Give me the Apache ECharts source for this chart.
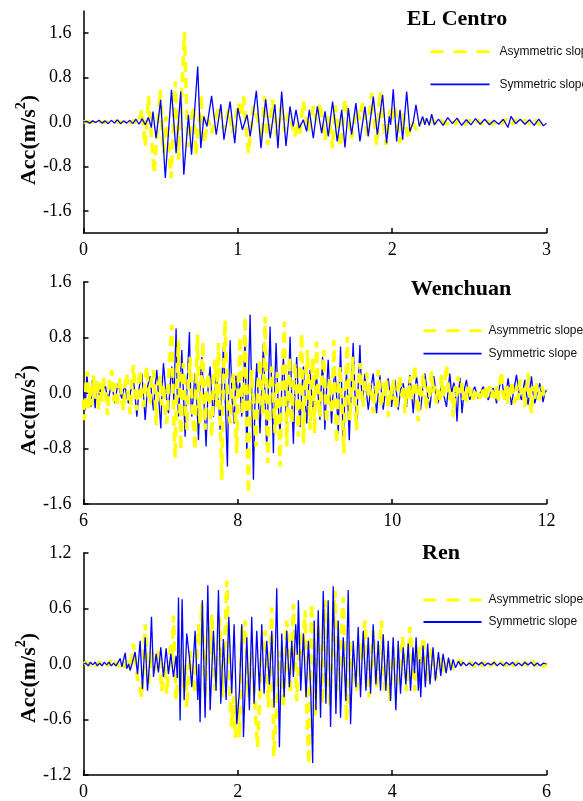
<!DOCTYPE html>
<html>
<head>
<meta charset="utf-8">
<style>
html,body{margin:0;padding:0;background:#fff;}
#c{width:583px;height:801px;}
</style>
<script src="https://cdn.jsdelivr.net/npm/echarts@6/dist/echarts.min.js"></script>
</head>
<body>
<div id="c"></div>
<script>
// ---------- DATA ([time s, acceleration m/s^2]) ----------
const seriesNames = ['Asymmetric slope', 'Symmetric slope'];
const panelTitles = ['EL Centro', 'Wenchuan', 'Ren'];

const elCentroYTicks = [-1.6, -0.8, 0, 0.8, 1.6];

const elCentroAsym = [[0,0],[0.03,0.01],[0.06,-0.01],[0.09,0.02],[0.12,-0.01],[0.15,0.01],[0.18,-0.02],[0.21,0.01],[0.24,-0.01],[0.27,0.02],[0.30,-0.02],[0.33,0.03],[0.355,-0.04],[0.378,0.22],[0.40,-0.44],[0.421,0.46],[0.458,-0.92],[0.497,0.58],[0.518,-0.56],[0.534,0.10],[0.568,-1.01],[0.594,0.73],[0.616,-0.68],[0.654,1.62],[0.676,-0.45],[0.713,0.28],[0.728,-0.60],[0.762,0.49],[0.78,-0.38],[0.81,0.04],[0.832,-0.20],[0.875,0.28],[0.907,-0.14],[0.94,0.22],[0.965,-0.20],[1.004,0.34],[1.02,0.10],[1.037,0.46],[1.069,-0.56],[1.10,0.28],[1.13,0.04],[1.156,-0.30],[1.173,0.46],[1.194,-0.41],[1.225,0.40],[1.253,-0.26],[1.285,0.34],[1.30,-0.17],[1.33,0.16],[1.37,-0.26],[1.39,0.0],[1.40,-0.26],[1.424,0.37],[1.457,-0.17],[1.489,0.28],[1.51,0.0],[1.532,0.34],[1.565,-0.32],[1.59,0.10],[1.614,-0.47],[1.63,0.30],[1.666,-0.44],[1.694,0.40],[1.737,-0.29],[1.77,0.22],[1.79,0.05],[1.808,0.34],[1.839,-0.26],[1.867,0.52],[1.90,-0.41],[1.921,0.55],[1.96,-0.41],[1.986,0.22],[2.0,0.05],[2.018,0.28],[2.05,-0.38],[2.07,0.16],[2.105,-0.29],[2.126,0.04],[2.158,-0.14],[2.20,0.05],[2.23,-0.05],[2.26,0.04],[2.29,-0.05],[2.32,0.03],[2.35,-0.04],[2.38,0.05],[2.41,-0.03],[2.44,0.04],[2.47,-0.05],[2.50,0.03],[2.53,-0.04],[2.56,0.03],[2.59,-0.06],[2.62,0.02],[2.65,-0.04],[2.68,0.03],[2.71,-0.03],[2.74,0.05],[2.77,-0.05],[2.80,0.04],[2.83,-0.04],[2.86,0.03],[2.89,-0.03],[2.92,0.05],[2.95,-0.04],[2.98,0.02],[3.0,0.0]];

const elCentroSym = [[0,0],[0.02,0.01],[0.04,-0.02],[0.06,0.02],[0.08,-0.01],[0.10,0.03],[0.12,-0.02],[0.14,0.02],[0.16,-0.03],[0.18,0.03],[0.20,-0.02],[0.22,0.04],[0.24,-0.03],[0.26,0.02],[0.28,-0.02],[0.30,0.03],[0.32,-0.03],[0.34,0.05],[0.36,-0.04],[0.38,0.06],[0.40,-0.05],[0.42,0.08],[0.44,-0.10],[0.45,0.19],[0.47,-0.29],[0.50,0.40],[0.53,-1.01],[0.57,0.58],[0.60,-0.56],[0.63,0.55],[0.65,-0.95],[0.68,0.13],[0.70,-0.59],[0.74,1.0],[0.76,-0.47],[0.78,0.10],[0.80,-0.08],[0.83,0.47],[0.86,-0.23],[0.89,0.32],[0.91,-0.32],[0.95,0.37],[0.98,-0.38],[1.00,0.25],[1.03,-0.14],[1.06,0.13],[1.08,-0.26],[1.12,0.56],[1.15,-0.47],[1.18,0.41],[1.21,-0.29],[1.24,0.32],[1.26,-0.47],[1.284,0.55],[1.312,-0.43],[1.338,0.28],[1.359,-0.08],[1.377,0.22],[1.398,-0.11],[1.424,0.04],[1.446,-0.17],[1.463,0.22],[1.489,-0.29],[1.515,0.28],[1.543,-0.20],[1.565,0.19],[1.586,-0.26],[1.614,0.37],[1.644,-0.35],[1.673,0.22],[1.694,-0.46],[1.716,0.25],[1.737,-0.23],[1.765,0.34],[1.791,-0.35],[1.824,0.28],[1.845,-0.26],[1.878,0.46],[1.904,-0.23],[1.938,0.49],[1.964,-0.38],[1.981,0.10],[1.99,-0.05],[2.007,0.59],[2.029,-0.35],[2.051,0.22],[2.068,-0.32],[2.094,0.55],[2.115,-0.17],[2.137,0.0],[2.154,0.31],[2.176,-0.08],[2.197,0.10],[2.212,-0.05],[2.223,0.07],[2.24,-0.06],[2.256,0.14],[2.273,-0.05],[2.30,0.05],[2.33,-0.06],[2.36,0.08],[2.39,-0.03],[2.42,0.07],[2.45,-0.06],[2.48,0.04],[2.51,-0.05],[2.54,0.06],[2.57,-0.04],[2.60,0.05],[2.63,-0.05],[2.66,0.03],[2.69,-0.04],[2.72,0.05],[2.75,-0.10],[2.77,0.10],[2.80,-0.03],[2.83,0.05],[2.86,-0.04],[2.89,0.04],[2.92,-0.06],[2.95,0.05],[2.98,-0.07],[3.0,-0.02]];

const wenchuanYTicks = [-1.6, -0.8, 0, 0.8, 1.6];

const wenchuanAsym = [[6.000,-0.10],[6.013,-0.39],[6.032,0.12],[6.052,0.31],[6.070,-0.22],[6.088,0.10],[6.108,-0.18],[6.130,0.25],[6.152,-0.08],[6.173,0.20],[6.195,-0.25],[6.216,0.15],[6.238,-0.12],[6.259,0.22],[6.284,0.02],[6.311,-0.32],[6.338,0.18],[6.367,0.33],[6.390,-0.12],[6.410,0.14],[6.432,-0.20],[6.455,0.06],[6.475,0.21],[6.497,-0.12],[6.518,-0.25],[6.540,0.12],[6.561,0.28],[6.583,-0.08],[6.604,-0.30],[6.626,0.18],[6.648,0.40],[6.670,-0.05],[6.691,-0.25],[6.712,0.15],[6.734,0.33],[6.755,-0.12],[6.777,-0.20],[6.800,0.22],[6.820,0.38],[6.842,-0.06],[6.864,-0.15],[6.885,0.24],[6.907,0.33],[6.925,0.00],[6.941,-0.46],[6.966,0.10],[6.993,0.24],[7.015,-0.18],[7.040,0.12],[7.060,-0.30],[7.079,-0.44],[7.110,0.35],[7.144,0.98],[7.165,-0.20],[7.187,-0.94],[7.210,0.20],[7.231,0.76],[7.246,-0.10],[7.261,-0.82],[7.280,0.10],[7.295,0.43],[7.318,-0.10],[7.339,-0.53],[7.360,0.20],[7.382,0.52],[7.415,-0.30],[7.446,-0.82],[7.460,0.20],[7.477,0.84],[7.495,-0.10],[7.511,-0.44],[7.530,0.30],[7.546,0.74],[7.560,-0.10],[7.576,-0.53],[7.598,0.10],[7.619,0.28],[7.640,-0.20],[7.662,-0.63],[7.685,0.20],[7.706,0.48],[7.730,-0.20],[7.749,0.72],[7.770,-0.30],[7.792,-1.25],[7.815,0.30],[7.835,1.05],[7.868,-0.10],[7.900,-0.44],[7.922,0.10],[7.943,0.28],[7.965,-0.30],[7.986,-0.87],[8.008,0.20],[8.029,0.81],[8.046,0.10],[8.064,-0.30],[8.080,0.30],[8.094,1.10],[8.115,-0.30],[8.137,-1.45],[8.158,0.10],[8.180,0.33],[8.208,-0.20],[8.237,-0.77],[8.262,0.10],[8.288,0.48],[8.305,0.00],[8.323,-0.30],[8.340,0.40],[8.353,1.10],[8.370,-0.20],[8.388,-1.01],[8.414,0.10],[8.440,0.38],[8.462,-0.10],[8.483,-0.58],[8.500,0.00],[8.513,0.30],[8.530,-0.30],[8.547,-1.06],[8.575,0.20],[8.604,1.03],[8.620,0.00],[8.634,-0.77],[8.652,0.10],[8.668,0.52],[8.684,-0.10],[8.699,-0.44],[8.720,0.10],[8.742,0.43],[8.763,-0.10],[8.785,-0.63],[8.806,0.30],[8.828,0.86],[8.840,0.10],[8.850,-0.73],[8.876,0.10],[8.902,0.62],[8.920,0.00],[8.936,-0.53],[8.953,0.10],[8.970,0.50],[8.983,0.00],[8.995,-0.58],[9.008,0.10],[9.020,0.74],[9.042,0.00],[9.064,-0.34],[9.090,0.20],[9.115,0.62],[9.132,0.00],[9.150,-0.44],[9.172,0.00],[9.193,0.20],[9.208,-0.10],[9.220,-0.30],[9.232,0.20],[9.245,0.76],[9.262,-0.10],[9.280,-0.73],[9.302,0.00],[9.323,0.38],[9.350,-0.20],[9.375,-0.87],[9.396,0.10],[9.418,0.81],[9.435,0.00],[9.452,-0.39],[9.470,0.10],[9.487,0.52],[9.512,-0.10],[9.539,-0.53],[9.560,0.10],[9.582,0.43],[9.604,0.00],[9.625,-0.20],[9.648,0.15],[9.670,0.30],[9.690,-0.05],[9.711,0.14],[9.733,0.02],[9.754,-0.29],[9.786,0.10],[9.805,-0.05],[9.819,0.33],[9.840,0.00],[9.862,-0.20],[9.884,0.15],[9.905,-0.04],[9.927,0.18],[9.949,-0.34],[9.970,0.05],[9.990,-0.10],[10.013,0.20],[10.035,-0.10],[10.057,-0.24],[10.078,0.10],[10.100,0.24],[10.122,-0.05],[10.143,0.10],[10.165,-0.29],[10.187,0.05],[10.208,-0.10],[10.230,0.24],[10.245,-0.05],[10.260,-0.10],[10.277,0.15],[10.294,0.40],[10.315,-0.05],[10.337,-0.41],[10.360,0.10],[10.380,-0.05],[10.402,0.28],[10.424,0.00],[10.445,-0.24],[10.467,0.10],[10.488,-0.05],[10.510,0.31],[10.532,0.00],[10.553,0.10],[10.575,-0.15],[10.597,0.05],[10.618,-0.10],[10.640,0.26],[10.655,-0.05],[10.670,0.00],[10.687,0.20],[10.704,0.40],[10.725,0.10],[10.747,-0.10],[10.770,0.05],[10.791,-0.34],[10.820,0.10],[10.837,-0.05],[10.855,0.24],[10.877,0.00],[10.898,0.15],[10.920,-0.10],[10.942,0.05],[10.963,-0.12],[10.985,0.09],[11.007,-0.05],[11.028,0.06],[11.050,-0.10],[11.072,0.05],[11.093,-0.06],[11.115,0.04],[11.137,-0.08],[11.158,0.06],[11.180,-0.05],[11.202,0.07],[11.223,-0.09],[11.245,0.05],[11.266,0.09],[11.288,-0.06],[11.310,0.05],[11.330,-0.08],[11.352,0.10],[11.374,-0.12],[11.395,0.15],[11.417,0.31],[11.438,0.00],[11.460,-0.10],[11.482,0.10],[11.503,-0.15],[11.525,0.04],[11.547,0.15],[11.568,-0.05],[11.590,-0.15],[11.612,0.10],[11.633,-0.10],[11.654,0.19],[11.676,0.00],[11.698,0.10],[11.719,-0.20],[11.740,0.05],[11.762,0.28],[11.783,-0.05],[11.805,-0.29],[11.826,0.10],[11.848,-0.08],[11.870,0.14],[11.891,-0.05],[11.913,-0.10],[11.935,0.10],[11.956,0.04],[11.978,-0.08],[12.000,-0.05]];

const wenchuanSym = [[6.000,0.05],[6.022,-0.25],[6.043,0.28],[6.068,-0.05],[6.095,-0.20],[6.108,0.05],[6.121,0.24],[6.136,0.00],[6.151,-0.22],[6.172,0.10],[6.185,0.12],[6.205,-0.03],[6.222,0.08],[6.237,-0.10],[6.259,0.05],[6.281,0.12],[6.302,-0.02],[6.324,-0.10],[6.345,0.05],[6.367,0.14],[6.389,-0.02],[6.410,-0.15],[6.432,0.05],[6.453,0.14],[6.475,0.00],[6.497,-0.08],[6.518,0.04],[6.540,0.09],[6.561,-0.05],[6.583,-0.15],[6.615,0.05],[6.648,0.18],[6.670,-0.05],[6.691,-0.34],[6.724,0.10],[6.756,0.28],[6.778,-0.05],[6.799,-0.39],[6.832,0.10],[6.864,0.24],[6.885,-0.05],[6.907,-0.25],[6.928,0.10],[6.950,0.33],[6.976,-0.10],[7.002,-0.51],[7.020,0.10],[7.036,0.43],[7.068,0.00],[7.101,-0.29],[7.122,0.10],[7.144,0.38],[7.170,-0.10],[7.200,0.93],[7.215,0.00],[7.231,-0.34],[7.252,0.10],[7.274,0.62],[7.295,0.00],[7.317,-0.63],[7.345,0.20],[7.373,0.88],[7.388,0.00],[7.403,-0.34],[7.425,0.00],[7.446,0.28],[7.468,-0.10],[7.490,-0.68],[7.512,0.10],[7.533,0.52],[7.560,-0.10],[7.589,-0.77],[7.615,0.10],[7.641,0.38],[7.662,-0.05],[7.684,-0.34],[7.705,0.05],[7.727,0.28],[7.750,-0.10],[7.770,-0.53],[7.792,0.10],[7.813,0.67],[7.840,-0.20],[7.865,-1.06],[7.882,0.10],[7.900,0.76],[7.926,-0.10],[7.952,-0.44],[7.975,0.25],[8.000,-0.05],[8.025,0.15],[8.051,-0.34],[8.072,0.10],[8.094,0.76],[8.116,-0.92],[8.138,0.20],[8.159,1.13],[8.180,0.00],[8.202,-1.25],[8.224,0.00],[8.245,0.43],[8.266,-0.10],[8.288,-0.58],[8.310,0.10],[8.332,0.72],[8.354,-0.10],[8.375,-0.82],[8.396,0.10],[8.418,0.96],[8.440,0.00],[8.461,-0.87],[8.478,0.10],[8.496,0.72],[8.520,-0.10],[8.547,-0.63],[8.570,0.10],[8.591,0.52],[8.612,-0.05],[8.634,-0.44],[8.656,0.10],[8.677,0.81],[8.698,-0.05],[8.720,-0.73],[8.742,0.10],[8.763,0.52],[8.785,-0.10],[8.807,-0.49],[8.828,0.05],[8.850,0.38],[8.872,-0.05],[8.893,-0.44],[8.915,0.05],[8.936,0.33],[8.958,-0.05],[8.979,-0.25],[9.000,0.05],[9.020,0.24],[9.042,-0.05],[9.064,-0.39],[9.081,0.10],[9.098,0.52],[9.113,0.00],[9.128,-0.53],[9.150,0.05],[9.171,0.48],[9.193,-0.05],[9.215,-0.44],[9.236,0.05],[9.258,0.38],[9.280,-0.05],[9.301,-0.58],[9.316,0.10],[9.331,0.67],[9.348,0.00],[9.366,-0.73],[9.388,0.00],[9.409,0.28],[9.426,-0.10],[9.444,-0.68],[9.470,0.10],[9.495,0.72],[9.517,0.00],[9.539,-0.44],[9.560,0.10],[9.582,0.69],[9.600,0.10],[9.616,-0.15],[9.631,0.05],[9.646,0.28],[9.668,0.00],[9.690,-0.24],[9.722,0.05],[9.754,0.28],[9.776,0.00],[9.798,-0.29],[9.820,0.00],[9.841,0.26],[9.862,0.00],[9.884,-0.24],[9.916,0.05],[9.949,0.21],[9.970,0.00],[9.992,-0.20],[10.013,0.00],[10.035,0.19],[10.056,0.00],[10.078,-0.24],[10.110,0.05],[10.143,0.14],[10.165,-0.02],[10.186,-0.20],[10.208,0.05],[10.230,0.26],[10.252,0.00],[10.273,-0.29],[10.295,0.05],[10.316,0.24],[10.342,0.00],[10.368,-0.24],[10.396,0.05],[10.424,0.28],[10.456,0.00],[10.488,-0.22],[10.514,0.05],[10.540,0.24],[10.568,0.00],[10.596,-0.15],[10.618,0.00],[10.640,0.11],[10.672,-0.05],[10.704,-0.20],[10.726,0.05],[10.747,0.28],[10.770,0.00],[10.800,0.15],[10.820,0.00],[10.840,-0.41],[10.860,0.00],[10.880,0.22],[10.890,0.00],[10.905,-0.29],[10.935,0.05],[10.963,0.19],[10.985,0.00],[11.006,-0.10],[11.038,0.02],[11.071,0.09],[11.093,0.00],[11.115,-0.08],[11.148,0.02],[11.180,0.09],[11.212,0.00],[11.244,-0.10],[11.276,0.00],[11.309,0.07],[11.330,0.00],[11.352,-0.15],[11.384,0.05],[11.417,0.24],[11.438,0.05],[11.460,-0.10],[11.482,0.05],[11.503,0.21],[11.525,0.00],[11.546,-0.17],[11.578,0.05],[11.611,0.26],[11.644,0.00],[11.676,-0.10],[11.698,0.05],[11.719,0.19],[11.740,0.00],[11.762,-0.17],[11.783,0.05],[11.805,0.24],[11.826,0.00],[11.848,-0.15],[11.880,0.00],[11.913,0.14],[11.935,0.00],[11.956,-0.13],[11.978,0.00],[12.000,0.04]];

const renYTicks = [-1.2, -0.6, 0, 0.6, 1.2];

const renAsym = [[0,0],[0.04,0.02],[0.08,-0.02],[0.12,0.01],[0.16,-0.02],[0.20,0.02],[0.24,-0.01],[0.28,0.02],[0.32,-0.02],[0.35,0.04],[0.38,-0.02],[0.42,0.02],[0.46,-0.03],[0.50,0.03],[0.54,-0.04],[0.58,0.05],[0.61,-0.06],[0.648,0.22],[0.691,-0.11],[0.756,-0.36],[0.799,0.43],[0.842,-0.22],[0.885,0.14],[0.928,-0.07],[0.971,0.14],[1.015,-0.29],[1.05,0.0],[1.079,-0.32],[1.131,0.22],[1.15,0.05],[1.166,0.52],[1.20,-0.39],[1.252,0.18],[1.295,-0.25],[1.317,0.0],[1.338,-0.47],[1.382,0.14],[1.446,-0.32],[1.49,0.43],[1.511,0.20],[1.533,0.65],[1.576,-0.36],[1.619,0.40],[1.64,0.10],[1.662,0.54],[1.706,-0.29],[1.762,0.51],[1.805,-0.36],[1.857,0.90],[1.90,-0.40],[1.92,-0.68],[1.945,-0.35],[1.97,-0.80],[2.0,-0.40],[2.02,-0.79],[2.051,0.40],[2.07,0.20],[2.094,0.47],[2.137,-0.36],[2.18,0.14],[2.224,-0.47],[2.255,-0.90],[2.31,0.14],[2.353,0.36],[2.396,-0.47],[2.44,0.61],[2.465,-1.0],[2.547,0.14],[2.59,-0.47],[2.634,0.47],[2.677,-0.32],[2.72,0.65],[2.763,-0.40],[2.807,0.36],[2.84,0.10],[2.871,0.58],[2.895,-0.54],[2.92,-1.08],[2.955,0.65],[2.999,-0.58],[3.042,0.43],[3.098,-0.43],[3.128,0.69],[3.193,-0.47],[3.258,0.79],[3.301,-0.29],[3.366,0.72],[3.409,-0.61],[3.452,0.25],[3.50,-0.10],[3.539,-0.29],[3.582,0.22],[3.61,0.05],[3.647,0.47],[3.703,-0.36],[3.754,0.36],[3.798,-0.25],[3.862,0.47],[3.905,-0.29],[3.94,0.05],[3.97,-0.39],[4.013,0.18],[4.065,-0.25],[4.134,0.29],[4.186,-0.29],[4.23,0.40],[4.294,-0.29],[4.337,0.18],[4.37,0.0],[4.402,0.29],[4.454,-0.18],[4.51,0.16],[4.566,-0.16],[4.618,0.09],[4.661,-0.09],[4.726,0.06],[4.791,-0.05],[4.877,0.04],[4.963,-0.03],[5.02,0.02],[5.07,-0.03],[5.12,0.02],[5.17,-0.02],[5.22,0.03],[5.27,-0.02],[5.32,0.02],[5.37,-0.03],[5.42,0.02],[5.47,-0.02],[5.52,0.03],[5.57,-0.02],[5.62,0.02],[5.67,-0.03],[5.72,0.02],[5.77,-0.02],[5.82,0.03],[5.87,-0.02],[5.92,0.02],[5.96,-0.03],[6.0,0.01]];

const renSym = [[0,0],[0.03,0.01],[0.06,-0.02],[0.09,0.02],[0.12,-0.01],[0.15,0.02],[0.18,-0.02],[0.21,0.01],[0.24,-0.02],[0.27,0.02],[0.30,-0.01],[0.33,0.02],[0.36,-0.02],[0.39,0.01],[0.42,-0.02],[0.45,0.02],[0.475,0.06],[0.497,-0.03],[0.54,0.12],[0.561,-0.05],[0.585,0.0],[0.604,-0.07],[0.635,0.02],[0.669,0.13],[0.70,-0.11],[0.734,0.25],[0.764,-0.27],[0.799,0.29],[0.829,-0.29],[0.86,0.05],[0.881,0.51],[0.907,-0.14],[0.941,0.11],[0.971,-0.09],[1.002,0.18],[1.036,-0.14],[1.071,0.17],[1.101,-0.11],[1.131,0.11],[1.166,-0.14],[1.20,0.09],[1.215,-0.15],[1.231,0.72],[1.252,-0.61],[1.278,0.70],[1.304,-0.39],[1.338,0.33],[1.373,0.07],[1.403,-0.25],[1.446,0.36],[1.481,-0.39],[1.495,0.0],[1.511,-0.63],[1.54,0.69],[1.576,-0.58],[1.611,0.85],[1.641,-0.50],[1.684,0.36],[1.718,-0.29],[1.749,0.80],[1.779,-0.43],[1.813,0.27],[1.848,-0.39],[1.883,0.51],[1.921,-0.32],[1.952,0.43],[1.986,-0.65],[2.02,-0.30],[2.051,0.43],[2.073,-0.79],[2.116,0.29],[2.15,-0.50],[2.18,0.51],[2.211,-0.43],[2.245,0.36],[2.28,-0.29],[2.31,0.43],[2.34,-0.32],[2.375,0.25],[2.409,-0.22],[2.44,0.36],[2.47,-0.47],[2.504,0.82],[2.539,-0.90],[2.569,0.33],[2.60,-0.36],[2.634,0.36],[2.668,-0.25],[2.699,0.25],[2.72,-0.14],[2.75,0.43],[2.77,0.10],[2.785,0.69],[2.815,-0.29],[2.85,0.33],[2.884,-0.36],[2.915,0.25],[2.945,-0.29],[2.97,-1.07],[2.99,0.47],[3.012,-0.50],[3.042,0.58],[3.072,-0.58],[3.107,0.79],[3.141,-0.43],[3.171,0.69],[3.202,-0.68],[3.236,0.84],[3.271,-0.54],[3.301,0.47],[3.331,-0.58],[3.366,0.29],[3.40,-0.40],[3.43,0.80],[3.461,-0.65],[3.495,0.25],[3.53,-0.25],[3.56,0.40],[3.59,-0.36],[3.625,0.36],[3.66,-0.29],[3.69,0.29],[3.72,-0.32],[3.754,0.43],[3.789,-0.22],[3.819,0.25],[3.849,-0.29],[3.884,0.32],[3.918,-0.29],[3.949,0.25],[3.979,-0.40],[4.013,0.29],[4.048,-0.50],[4.078,0.25],[4.108,-0.32],[4.143,0.18],[4.177,-0.22],[4.208,0.22],[4.238,-0.29],[4.27,0.18],[4.29,-0.10],[4.31,0.29],[4.34,-0.29],[4.355,0.05],[4.37,-0.36],[4.40,0.20],[4.43,-0.25],[4.46,0.22],[4.49,-0.22],[4.53,0.18],[4.56,-0.18],[4.60,0.13],[4.63,-0.13],[4.66,0.11],[4.70,-0.10],[4.73,0.07],[4.76,-0.07],[4.79,0.05],[4.82,-0.04],[4.86,0.03],[4.89,-0.02],[4.92,0.02],[4.96,-0.02],[5.0,0.01],[5.04,-0.02],[5.08,0.02],[5.12,-0.01],[5.16,0.02],[5.2,-0.02],[5.24,0.01],[5.28,-0.01],[5.32,0.02],[5.36,-0.02],[5.4,0.01],[5.44,-0.02],[5.48,0.02],[5.52,-0.01],[5.56,0.02],[5.6,-0.02],[5.64,0.01],[5.68,-0.02],[5.72,0.02],[5.76,-0.01],[5.8,0.02],[5.84,-0.02],[5.88,0.01],[5.92,-0.02],[5.96,0.01],[6.0,0.0]];

// ---------- STYLE / LAYOUT ----------
const YELLOW = '#FFFF00';
const BLUE = '#0000FF';
const SERIF = '"Liberation Serif", "Times New Roman", serif';
const SANS = '"Liberation Sans", Arial, sans-serif';

const panels = [
  {title: panelTitles[0], asym: elCentroAsym, sym: elCentroSym, xMin: 0, xMax: 3, xInt: 1,
   yMin: -2, yMax: 2, yTicks: elCentroYTicks, top: 11, titleX: 457, titleY: 19, nameY: 140,
   legLeft: 429, legTop: 45.7, legGap: 20.6, legW: 59, legPad: 5, yellowOnTop: false},
  {title: panelTitles[1], asym: wenchuanAsym, sym: wenchuanSym, xMin: 6, xMax: 12, xInt: 2,
   yMin: -1.6, yMax: 1.6, yTicks: wenchuanYTicks, top: 282, titleX: 461, titleY: 289, nameY: 410,
   legLeft: 422, legTop: 324.7, legGap: 11, legW: 58, legPad: 2, yellowOnTop: true},
  {title: panelTitles[2], asym: renAsym, sym: renSym, xMin: 0, xMax: 6, xInt: 2,
   yMin: -1.2, yMax: 1.2, yTicks: renYTicks, top: 553, titleX: 441, titleY: 553, nameY: 678,
   legLeft: 422, legTop: 594, legGap: 10, legW: 58, legPad: 2, yellowOnTop: false}
];

const GRID_LEFT = 83.5, GRID_W = 463, GRID_H = 222;

const fmt = v => (Math.abs(v) < 1e-9 ? '0.0' : v.toFixed(1));

const grid = [], xAxis = [], yAxis = [], series = [], legend = [], graphic = [];

panels.forEach((p, i) => {
  grid.push({left: GRID_LEFT, top: p.top, width: GRID_W, height: GRID_H, containLabel: false, outerBoundsMode: 'none'});
  xAxis.push({
    type: 'value', gridIndex: i, min: p.xMin, max: p.xMax, interval: p.xInt,
    axisLine: {onZero: false, lineStyle: {color: '#000', width: 1.5}},
    axisTick: {inside: true, length: 5, lineStyle: {color: '#000', width: 1.5}},
    axisLabel: {color: '#000', fontFamily: SERIF, fontSize: 18, margin: 8},
    splitLine: {show: false}
  });
  yAxis.push({
    type: 'value', gridIndex: i, min: p.yMin, max: p.yMax,
    axisLine: {show: true, onZero: false, lineStyle: {color: '#000', width: 1.5}},
    axisTick: {show: true, inside: true, length: 5, customValues: p.yTicks, lineStyle: {color: '#000', width: 1.5}},
    axisLabel: {color: '#000', fontFamily: SERIF, fontSize: 18, margin: 12, customValues: p.yTicks, formatter: fmt},
    splitLine: {show: false}
  });
  series.push({
    name: seriesNames[0], type: 'line', xAxisIndex: i, yAxisIndex: i, data: p.asym,
    symbol: 'none', showSymbol: false, animation: false, z: p.yellowOnTop ? 4 : 2,
    lineStyle: {color: YELLOW, width: 3.5, type: [10, 6]}, itemStyle: {color: YELLOW}
  });
  series.push({
    name: seriesNames[1], type: 'line', xAxisIndex: i, yAxisIndex: i, data: p.sym,
    symbol: 'none', showSymbol: false, animation: false, z: 3,
    lineStyle: {color: BLUE, width: 1.3}, itemStyle: {color: BLUE}
  });
  legend.push({
    orient: 'vertical', left: p.legLeft, top: p.legTop, padding: 0,
    itemWidth: p.legW, itemHeight: 14, itemGap: p.legGap,
    itemStyle: {opacity: 0},
    textStyle: {fontFamily: SANS, fontSize: 12, color: '#111', padding: [0, 0, 0, p.legPad]},
    data: [
      {name: seriesNames[0], lineStyle: {type: [13, 10], width: 3}},
      {name: seriesNames[1], lineStyle: {width: 1.8}}
    ]
  });
  graphic.push({
    type: 'text', x: p.titleX, y: p.titleY,
    style: {text: p.title, font: 'bold 22px ' + SERIF, fill: '#000', align: 'center', verticalAlign: 'middle'}
  });
  graphic.push({
    type: 'text', x: 27, y: p.nameY, rotation: Math.PI / 2,
    style: {
      text: '{a|Acc(m/s}{s|2}{a|)}', align: 'center', verticalAlign: 'middle',
      rich: {
        a: {fontFamily: SERIF, fontWeight: 'bold', fontSize: 22, fill: '#000', color: '#000', lineHeight: 26, verticalAlign: 'bottom'},
        s: {fontFamily: SERIF, fontWeight: 'bold', fontSize: 14, fill: '#000', color: '#000', lineHeight: 26, verticalAlign: 'top'}
      }
    }
  });
});

const chart = echarts.init(document.getElementById('c'), null, {renderer: 'canvas'});
chart.setOption({
  backgroundColor: '#fff',
  animation: false,
  grid, xAxis, yAxis, series, legend, graphic
});
</script>
</body>
</html>
